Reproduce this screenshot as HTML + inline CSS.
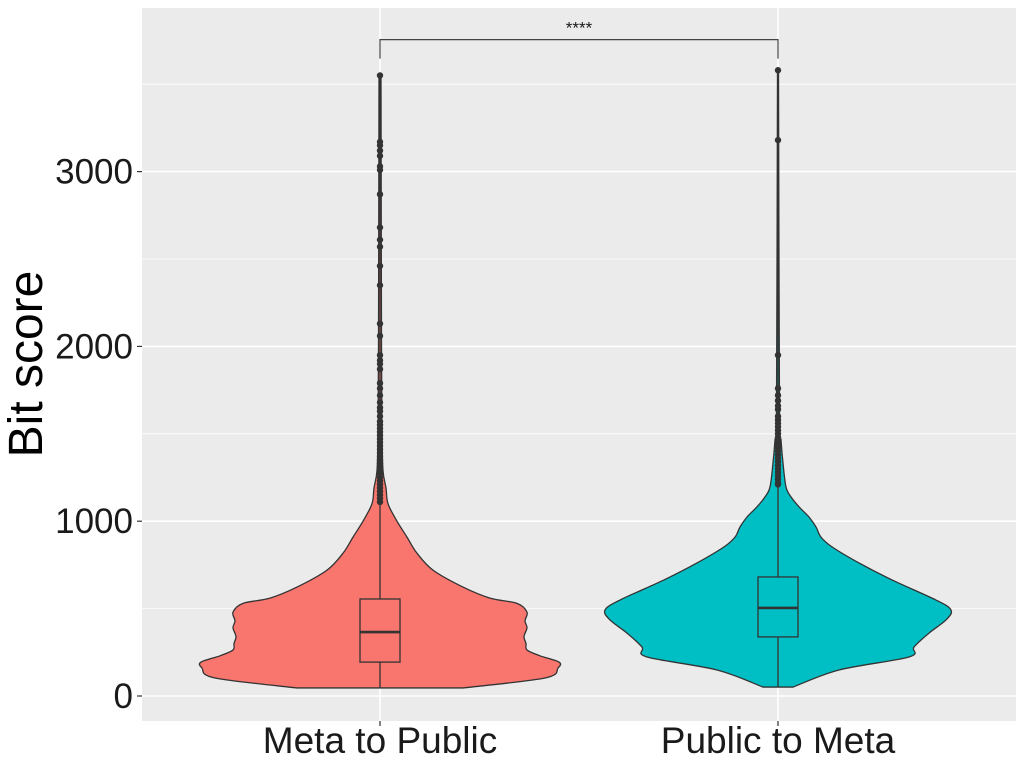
<!DOCTYPE html>
<html><head><meta charset="utf-8"><style>
html,body{margin:0;padding:0;background:#fff;}
svg{display:block;font-family:"Liberation Sans",sans-serif;}
</style></head><body>
<svg id="chart" width="1024" height="768" viewBox="0 0 1024 768">
<rect x="142" y="8" width="874" height="713" fill="#ebebeb"/>
<g id="grid"></g><g id="violins"></g><g id="axes"></g>
<text x="0" y="0" transform="translate(42,364) rotate(-90)" text-anchor="middle" font-size="48" fill="#000">Bit score</text>
</svg>
<script>
const categories = ["Meta to Public", "Public to Meta"];
const colors = ["#f8766d", "#00bfc4"];
const yTicks = [0, 1000, 2000, 3000];
const yMinor = [500, 1500, 2500, 3500];
// density profiles: values and relative half-widths
const densVals1 = [46,103,160,194,230,263,300,340,390,430,480,530,560,623,720,817,909,1000,1100,1190,1290,1500,2000,3550];
const densW1 = [83,165,178,179,160,147,146,144,147,145,147,137,110,83,53,37,27,17,8,6,3,2,1.5,1];
const densVals2 = [51,149,223,280,360,435,492,549,664,761,853,909,967,1024,1082,1139,1196,1333,1465,1620,3580];
const densW2 = [15,61,131,136,151,168,173,158,114,81,54,43,38,31,21,13,8,5,3,1.5,0.5];
const boxStats = [[46,194,366,555,1080],[51,338,504,681,1200]];
const outliers1 = [3550,3170,3150,3120,3090,3030,3010,2870,2680,2610,2570,2460,2350,2130,2060,1950,1920,1900,1870,1790,1760,1720,1680,1650,1630,1600,1570,1550,1530,1510,1490,1470,1450,1430,1410,1390,1370,1350,1330,1310,1290,1270,1250,1230,1210,1190,1170,1150,1130,1110];
const outliers2 = [3580,3180,1950,1760,1720,1690,1660,1640,1600,1580,1560,1540,1520,1500,1480,1460,1440,1420,1400,1380,1360,1340,1320,1300,1280,1260,1240,1220,1210];
const sigValue = 3755, sigLabel = "****";

const NS="http://www.w3.org/2000/svg";
const y = v => 696 - v*0.1748;
const xc = i => 380 + i*398;
function mk(tag, attrs, parent){const e=document.createElementNS(NS,tag);for(const k in attrs)e.setAttribute(k,attrs[k]);parent.appendChild(e);return e;}
function smooth(pts){
  let d=`M${pts[0][0]},${pts[0][1]}`;
  for(let i=0;i<pts.length-1;i++){
    const p0=pts[Math.max(0,i-1)],p1=pts[i],p2=pts[i+1],p3=pts[Math.min(pts.length-1,i+2)];
    const c1=[p1[0]+(p2[0]-p0[0])/6,p1[1]+(p2[1]-p0[1])/6];
    const c2=[p2[0]-(p3[0]-p1[0])/6,p2[1]-(p3[1]-p1[1])/6];
    d+=` C${c1[0]},${c1[1]} ${c2[0]},${c2[1]} ${p2[0]},${p2[1]}`;
  }
  return d;
}
const grid=document.getElementById('grid'), vg=document.getElementById('violins'), ax=document.getElementById('axes');
yMinor.forEach(v=>{const l=mk('line',{x1:142,x2:1016,y1:y(v),y2:y(v),stroke:'#fff','stroke-width':0.8},grid);

});
yTicks.forEach(v=>{const l=mk('line',{x1:142,x2:1016,y1:y(v),y2:y(v),stroke:'#fff','stroke-width':1.6},grid);


const t=mk('line',{x1:137,x2:142,y1:y(v),y2:y(v),stroke:'#333','stroke-width':1.2},ax);


const tx=mk('text',{x:133,y:y(v)+12,'text-anchor':'end','font-size':35,fill:'#1a1a1a'},ax);tx.textContent=v;

});
categories.forEach((c,i)=>{const l=mk('line',{x1:xc(i),x2:xc(i),y1:8,y2:721,stroke:'#fff','stroke-width':1.6},grid);


const t=mk('line',{x1:xc(i),x2:xc(i),y1:721,y2:726,stroke:'#333','stroke-width':1.2},ax);


const tx=mk('text',{x:xc(i),y:753,'text-anchor':'middle','font-size':37,fill:'#1a1a1a'},ax);tx.textContent=c;

});
const dens=[[densVals1,densW1],[densVals2,densW2]];
const outs=[outliers1,outliers2];
dens.forEach(([vals,w],i)=>{
  const cx=xc(i);
  const right=vals.map((v,k)=>[cx+w[k],y(v)]);
  const left=vals.map((v,k)=>[cx-w[k],y(v)]).reverse();
  const d=smooth(right)+' L'+left[0][0]+','+left[0][1]+smooth(left).replace(/^M[^C]*/,' ')+' Z';
  const p=mk('path',{d:d,fill:colors[i],stroke:'#333','stroke-width':1.3,'stroke-linejoin':'round'},vg);
  
  
  const s=boxStats[i];
  const w1=mk('line',{x1:cx,x2:cx,y1:y(s[0]),y2:y(s[1]),stroke:'#333','stroke-width':1.3},vg);
  
  
  const w2=mk('line',{x1:cx,x2:cx,y1:y(s[3]),y2:y(Math.max(...outs[i])),stroke:'#333','stroke-width':1.3},vg);
  
  
  const b=mk('rect',{x:cx-20,y:y(s[3]),width:40,height:y(s[1])-y(s[3]),fill:colors[i],stroke:'#333','stroke-width':1.3},vg);
  
  
  const m=mk('line',{x1:cx-20,x2:cx+20,y1:y(s[2]),y2:y(s[2]),stroke:'#333','stroke-width':2.6},vg);
  
  
  outs[i].forEach(v=>{const c=mk('circle',{cx:cx,cy:y(v),r:3.2,fill:'#333'},vg);
  
  });
});
const br=mk('polyline',{points:`${xc(0)},${y(sigValue)+19} ${xc(0)},${y(sigValue)} ${xc(1)},${y(sigValue)} ${xc(1)},${y(sigValue)+19}`,fill:'none',stroke:'#444','stroke-width':1.2},ax);


const st=mk('text',{x:(xc(0)+xc(1))/2,y:y(sigValue)-6,'text-anchor':'middle','font-size':17,fill:'#1a1a1a'},ax);st.textContent=sigLabel;


</script>
</body></html>
